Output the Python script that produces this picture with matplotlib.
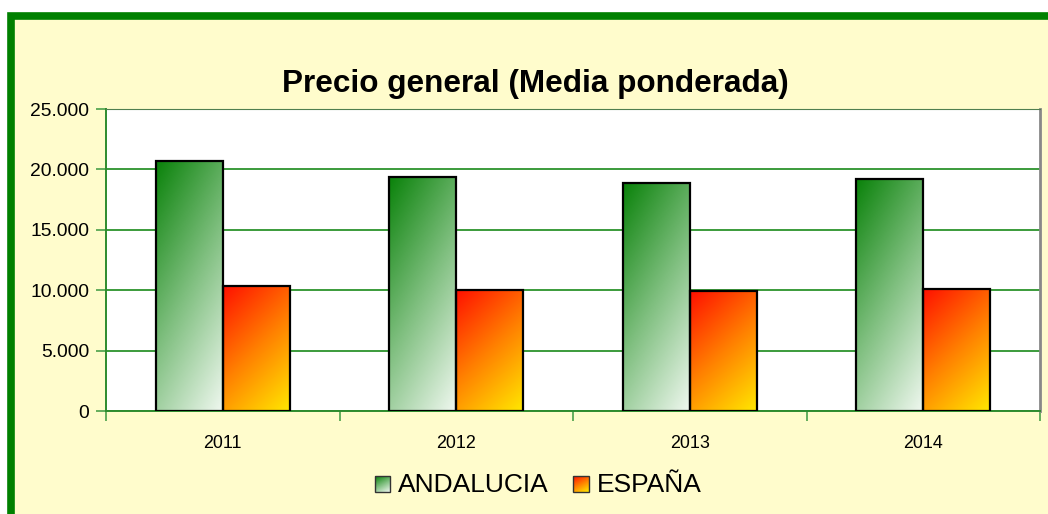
import numpy as np
import matplotlib.pyplot as plt
from matplotlib.patches import Rectangle
from matplotlib.colors import LinearSegmentedColormap
from matplotlib.ticker import FuncFormatter
from matplotlib.legend_handler import HandlerBase
from matplotlib.image import BboxImage
from matplotlib.transforms import Bbox, TransformedBbox

plt.rcParams['font.family'] = ['Liberation Sans', 'DejaVu Sans']

# Data
years = ['2011', '2012', '2013', '2014']
andalucia = [20700, 19380, 18880, 19210]
espana = [10350, 10020, 9930, 10100]
series_names = ['ANDALUCIA', 'ESPAÑA']
title = 'Precio general (Media ponderada)'

green_cmap = LinearSegmentedColormap.from_list('g', ['#0a820a', '#7fbf7f', '#f0f8f0'])
red_cmap = LinearSegmentedColormap.from_list('r', ['#ff1000', '#ff8000', '#ffe800'])


def grad_array(n=100):
    gx, gy = np.meshgrid(np.linspace(0, 1, n), np.linspace(0, 1, n))
    return 0.35 * gx + 0.65 * gy


fig = plt.figure(figsize=(10.48, 5.14), dpi=100)
fig.patch.set_facecolor('white')

# outer frame (yellow with thick green border)
frame = Rectangle((11 / 1048, -0.05), 1.1, 1 - 16 / 514 + 0.05, transform=fig.transFigure,
                  facecolor='#fffccc', edgecolor='#008000', linewidth=5.5, zorder=0)
fig.patches.append(frame)

ax = fig.add_axes([106 / 1048, 1 - 411 / 514, (1040 - 106) / 1048, (411 - 109) / 514])
ax.set_facecolor('white')
ax.set_zorder(1)

x = np.arange(len(years))
w = 0.287


def gradient_bar(ax, xc, h, cmap):
    bar = ax.bar(xc, h, width=w, facecolor='none', edgecolor='black', linewidth=1.6, zorder=3)[0]
    im = ax.imshow(grad_array(), cmap=cmap, extent=(xc - w / 2, xc + w / 2, 0, h),
                   origin='upper', aspect='auto', zorder=2, interpolation='bilinear')
    im.set_clip_path(bar)


for i in range(len(years)):
    gradient_bar(ax, x[i] - w / 2, andalucia[i], green_cmap)
    gradient_bar(ax, x[i] + w / 2, espana[i], red_cmap)

ax.set_xlim(-0.5, 3.5)
ax.set_ylim(0, 25000)
ax.set_yticks(np.arange(0, 25001, 5000))
ax.yaxis.set_major_formatter(FuncFormatter(lambda v, p: f'{v:,.0f}'.replace(',', '.')))
ax.grid(axis='y', color='#1a8a1a', linewidth=1.2, zorder=1)
ax.set_axisbelow(True)

ax.set_xticks(x)
ax.set_xticklabels(years, fontsize=12.9)
ax.set_xticks(np.arange(-0.5, 4, 1), minor=True)
ax.tick_params(axis='x', which='major', length=0, pad=17)
ax.tick_params(axis='x', which='minor', length=7, color='#4aa04a', width=1.2)
ax.tick_params(axis='y', length=7, color='#4aa04a', width=1.2, labelsize=13.9, pad=5)

for s in ['left', 'bottom']:
    ax.spines[s].set_color('#2e8b2e')
    ax.spines[s].set_linewidth(1.4)
ax.spines['top'].set_color('#4f7f4f')
ax.spines['right'].set_color('#888888')
ax.spines['right'].set_linewidth(2)

fig.text(535 / 1048, 1 - 84 / 514, title, ha='center', va='center',
         fontsize=22.7, fontweight='bold')


class GradHandler(HandlerBase):
    def __init__(self, cmap):
        super().__init__()
        self.cmap = cmap

    def create_artists(self, legend, orig_handle, xd, yd, width, height, fontsize, trans):
        s = min(width, height)
        x0 = xd + (width - s) / 2
        y0 = yd + (height - s) / 2
        bb = TransformedBbox(Bbox.from_bounds(-x0, -y0, s, s), trans)
        img = BboxImage(bb, cmap=self.cmap, interpolation='bilinear')
        img.set_data(grad_array(20))
        r = Rectangle((-x0, -y0), s, s, facecolor='none', edgecolor='#333333',
                      linewidth=1, transform=trans)
        return [img, r]


h1 = Rectangle((0, 0), 1, 1)
h2 = Rectangle((0, 0), 1, 1)
fig.legend([h1, h2], series_names, loc='center', bbox_to_anchor=(538 / 1048, 1 - 485 / 514),
           ncol=2, frameon=False, fontsize=19, handlelength=0.6, handleheight=0.6,
           handletextpad=0.3, columnspacing=0.9,
           handler_map={h1: GradHandler(green_cmap), h2: GradHandler(red_cmap)})

fig.savefig('out.png', dpi=100)
